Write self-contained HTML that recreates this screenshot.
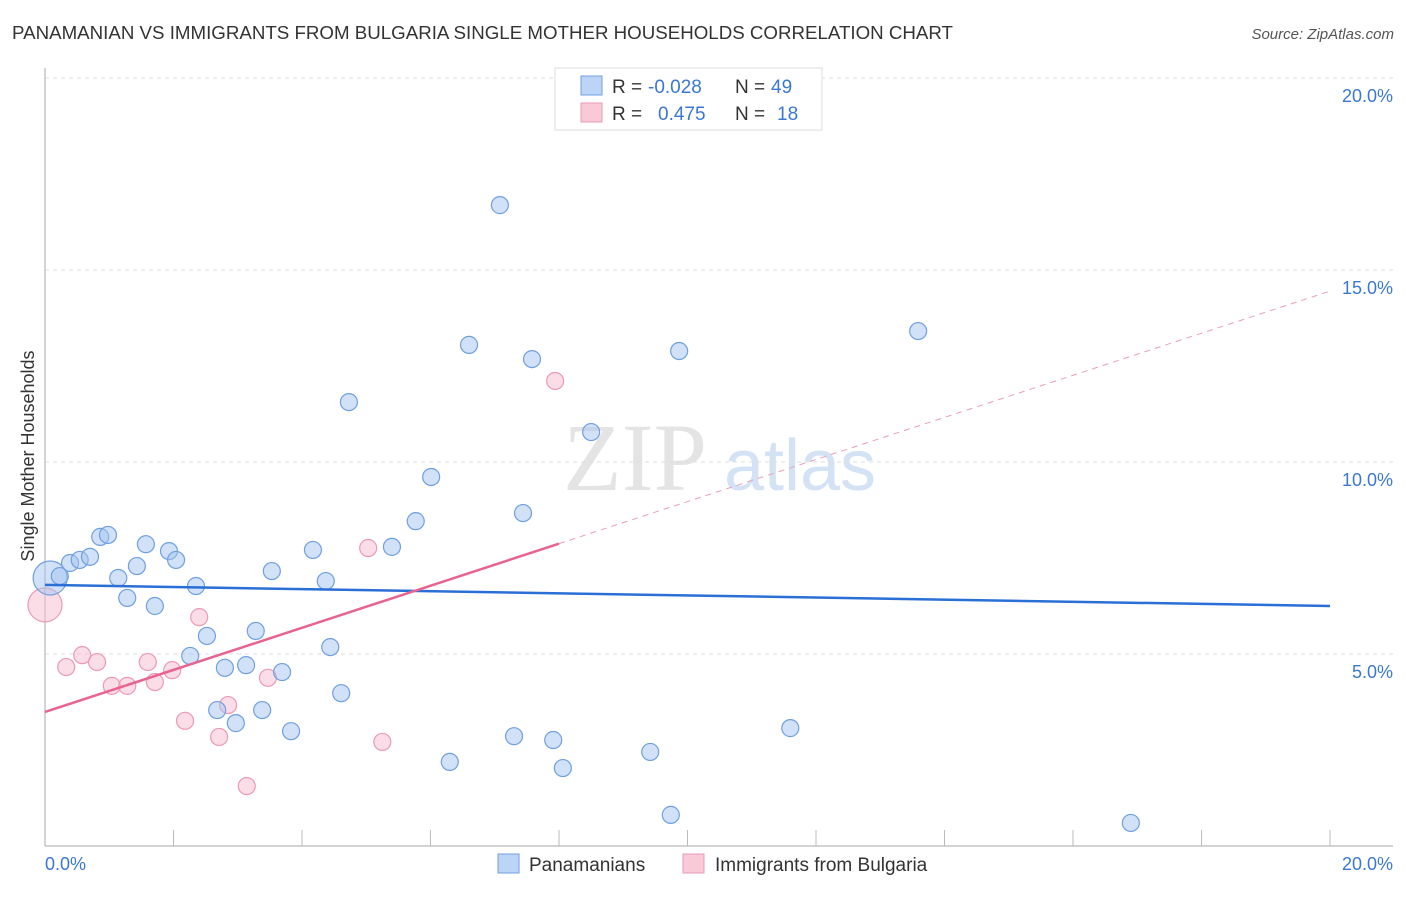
<!DOCTYPE html>
<html><head><meta charset="utf-8"><style>
body{margin:0;background:#fff;font-family:"Liberation Sans",sans-serif}
</style></head><body>
<svg width="1406" height="892" xmlns="http://www.w3.org/2000/svg" font-family="Liberation Sans, sans-serif">
<text x="12" y="39" font-size="18.5" fill="#333" textLength="941" lengthAdjust="spacingAndGlyphs">PANAMANIAN VS IMMIGRANTS FROM BULGARIA SINGLE MOTHER HOUSEHOLDS CORRELATION CHART</text>
<text x="1394" y="39" font-size="15" fill="#555" text-anchor="end" font-style="italic">Source: ZipAtlas.com</text>
<text transform="translate(34,456) rotate(-90)" font-size="18" fill="#333" text-anchor="middle">Single Mother Households</text>
<g><text x="635" y="490" font-size="96" fill="#e4e4e4" text-anchor="middle" font-family="Liberation Serif, serif">ZIP</text><text x="800" y="490" font-size="72" fill="#d3e2f5" text-anchor="middle">atlas</text></g>
<g id="grid"></g><g id="marks"></g>
<g>
<rect x="555" y="68" width="267" height="62" fill="#fff" stroke="#ddd"/>
<rect x="581" y="76" width="21" height="19" fill="#bcd4f5" stroke="#6fa0e0"/>
<rect x="581" y="103" width="21" height="19" fill="#f9c9d8" stroke="#ec9ab5"/>
<text x="612" y="93" font-size="19" fill="#333">R =</text>
<text x="648" y="93" font-size="19" fill="#3a78d4">-0.028</text>
<text x="735" y="93" font-size="19" fill="#333">N =</text>
<text x="771" y="93" font-size="19" fill="#3a78d4">49</text>
<text x="612" y="120" font-size="19" fill="#333">R =</text>
<text x="658" y="120" font-size="19" fill="#3a78d4">0.475</text>
<text x="735" y="120" font-size="19" fill="#333">N =</text>
<text x="777" y="120" font-size="19" fill="#3a78d4">18</text>
</g>
<g>
<rect x="498" y="854" width="21" height="19" fill="#bcd4f5" stroke="#6fa0e0"/>
<text x="529" y="871" font-size="19" fill="#333">Panamanians</text>
<rect x="683" y="854" width="21" height="19" fill="#f9c9d8" stroke="#ec9ab5"/>
<text x="715" y="871" font-size="19" fill="#333">Immigrants from Bulgaria</text>
</g>
</svg>
<script>
const blueX=[0.08,0.23,0.39,0.54,0.70,0.86,0.98,1.14,1.28,1.43,1.57,1.71,1.93,2.04,2.26,2.35,2.52,2.68,2.80,2.97,3.13,3.28,3.38,3.53,3.69,3.83,4.17,4.37,4.44,4.61,4.73,5.40,5.77,6.01,6.30,6.60,7.08,7.30,7.44,7.58,7.91,8.06,8.50,9.42,9.74,9.87,11.60,13.59,16.90];
const blueY=[6.98,7.03,7.37,7.45,7.53,8.05,8.10,6.98,6.46,7.29,7.86,6.25,7.68,7.45,4.95,6.77,5.47,3.54,4.64,3.20,4.71,5.60,3.54,7.16,4.53,2.99,7.71,6.90,5.18,3.98,11.56,7.79,8.46,9.61,2.19,13.05,16.69,2.86,8.67,12.68,2.76,2.03,10.78,2.45,0.81,12.89,3.07,13.41,0.60];
const pinkX=[0,0.33,0.58,0.81,1.04,1.28,1.60,1.71,1.98,2.18,2.40,2.71,2.85,3.14,3.47,5.03,5.25,7.94];
const pinkY=[6.28,4.66,4.97,4.79,4.17,4.17,4.79,4.27,4.58,3.26,5.96,2.84,3.67,1.56,4.38,7.76,2.71,12.11];
const yTicks=[5,10,15,20];
const yTickLabels=["5.0%","10.0%","15.0%","20.0%"];
const xTickLabels=["0.0%","20.0%"];
const blueTrend=[6.80,6.25];
const pinkTrend=[3.49,14.45];
const pinkSolidEnd=8.0;
const NS="http://www.w3.org/2000/svg";
const sx=v=>45+v*64.25, sy=v=>846-v*38.4;
function mk(t,a,p){const e=document.createElementNS(NS,t);for(const k in a)e.setAttribute(k,a[k]);p.appendChild(e);return e;}
const g=document.getElementById('grid'),m=document.getElementById('marks');
yTicks.forEach((t,i)=>{
 const l=mk('line',{x1:45,x2:1393,y1:sy(t),y2:sy(t),stroke:'#ddd','stroke-dasharray':'4,4'},g);
 
 
 const tx=mk('text',{x:1393,y:sy(t)+24,'font-size':18,fill:'#3a78d4','text-anchor':'end'},g);tx.textContent=yTickLabels[i];
 
 
});
mk('line',{x1:45,x2:45,y1:68,y2:846,stroke:'#aaa'},g);
mk('line',{x1:45,x2:1393,y1:846,y2:846,stroke:'#aaa'},g);
for(let k=1;k<=10;k++){const x=sx(k*2);const t=mk('line',{x1:x,x2:x,y1:830,y2:846,stroke:'#bbb'},g);
 
 }
const xl0=mk('text',{x:45,y:870,'font-size':18,fill:'#3a78d4'},g);xl0.textContent=xTickLabels[0];


const xl1=mk('text',{x:1393,y:870,'font-size':18,fill:'#3a78d4','text-anchor':'end'},g);xl1.textContent=xTickLabels[1];


function pts(X,Y,fill,stroke,name){X.forEach((x,i)=>{const r=(i===0)?17:8.5;
 const c=mk('circle',{cx:sx(x),cy:sy(Y[i]),r:r,fill:fill,stroke:stroke,'stroke-width':1.2},m);
 
 });}
pts(pinkX,pinkY,'rgba(248,187,208,0.5)','#ec9ab5','bulgaria-point');
pts(blueX,blueY,'rgba(164,196,240,0.5)','#6fa0e0','panamanian-point');
const bt=mk('line',{x1:sx(0),y1:sy(blueTrend[0]),x2:sx(20),y2:sy(blueTrend[1]),stroke:'#2a6fd6','stroke-width':2.5},m);


const py=v=>pinkTrend[0]+(pinkTrend[1]-pinkTrend[0])*v/20;
const pt=mk('line',{x1:sx(0),y1:sy(py(0)),x2:sx(pinkSolidEnd),y2:sy(py(pinkSolidEnd)),stroke:'#e8638f','stroke-width':2.5},m);


const pd=mk('line',{x1:sx(pinkSolidEnd),y1:sy(py(pinkSolidEnd)),x2:sx(20),y2:sy(py(20)),stroke:'#e8a0b8','stroke-width':1,'stroke-dasharray':'6,5'},m);


</script>
</body></html>
